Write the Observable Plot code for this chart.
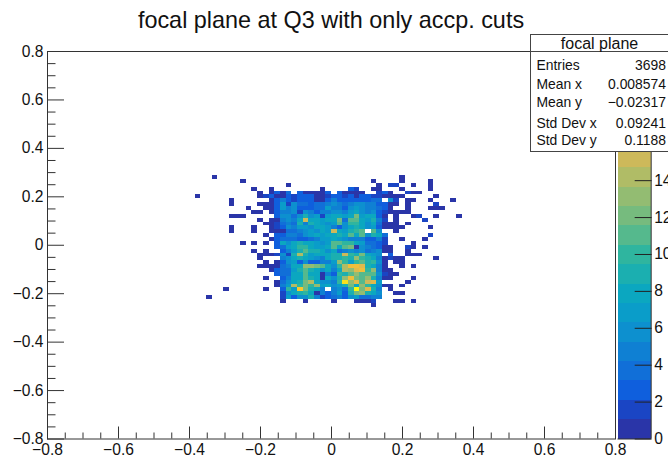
<!DOCTYPE html>
<html><head><meta charset="utf-8">
<script src="https://cdn.jsdelivr.net/npm/d3@7"></script>
<script src="https://cdn.jsdelivr.net/npm/@observablehq/plot@0.6"></script>
<style>
html,body{margin:0;padding:0;background:#fff;overflow:hidden}
#root{position:relative;width:668px;height:455px;overflow:hidden;font-family:"Liberation Sans",Arial,sans-serif;color:#111}
#root svg{position:absolute;background:transparent}
#title{position:absolute;left:0;width:662px;top:6px;text-align:center;font-size:23.4px;line-height:28px;white-space:nowrap}
#stats{position:absolute;left:530px;top:33.5px;width:140px;height:116px;background:#fff;border:1px solid #444;box-sizing:content-box}
#stats .t{position:absolute;left:0;top:0;height:16.5px;line-height:17px;text-align:center;font-size:16px;border-bottom:1px solid #444;width:140px;text-indent:-3px}
#stats .l,#stats .v{position:absolute;font-size:13.9px;line-height:16px;white-space:nowrap}
#stats .l{left:5.5px}
#stats .v{right:5px}
</style></head>
<body><div id="root"><div id="title"></div><div id="stats"></div></div>
<script>
const titleText = "focal plane at Q3 with only accp. cuts";
const statTitle = "focal plane";
const statLabels = ["Entries","Mean x","Mean y","Std Dev x","Std Dev y"];
const statValues = ["3698","0.008574","\u22120.02317","0.09241","0.1188"];
const statRowTops = [22,41.5,59.5,80.5,97.5];

// histogram: 100 x 100 bins on [-0.8, 0.8]
const binStart = -0.8, binWidth = 0.016;
const firstCol = 39, topRow = 63;
// counts in base 36, "." = empty; columns 39..60, rows 63 down to 35
const coreRows = [
"1314.311113.31111..231",
"3113233311233231332211",
"13532333113533333344.6",
"1372644344565456655331",
"1375633344755367655431",
"1355626535566578656321",
".36646967278878c78831.",
"115658f88788c4bb87952.",
"124549598767b6aa868411",
"1236577688753689867311",
"11144567687f879ab.b6..",
".3355467878898b8b6984.",
"134443345778765553352.",
".3868988767bbaa874432.",
".3478aa8778b8bc1654311",
"..3579b998684565645611",
"12629e9788899fa9c876.3",
"..56898765899a9da98512",
".13673633557da7ab9a61.",
"114588ddcb86aehhg9851.",
"134479b986858edghad51.",
".34488b88153a9bdbbb621",
"..3588b981869dhcbd9511",
".14689ce8665ajdgbfg7..",
".157eacad78679c8da8611",
"..3a7ic985.564akcg95.1",
"..2689a81535739cd986..",
"..273669523453674455..",
"..1...1....1...1112..."
];
// isolated bins outside the core: column, row, count
const strayCells = [
[29,67,1],[34,66,1],[42,65,1],[36,64,1],[39,64,1],[48,64,1],[53,64,3],[54,64,2],[37,63,1],[26,62,1],[37,62,1],[38,62,2],
[32,61,1],[32,60,1],[37,60,1],[38,60,1],[35,59,1],[38,59,1],[36,58,1],[37,58,1],[32,57,1],[33,57,1],[34,57,1],[37,56,1],
[38,55,1],[32,54,1],[36,54,1],[32,53,1],[36,53,1],[38,52,1],[34,50,1],[36,50,1],[38,50,1],[36,48,1],[38,48,1],[37,47,1],
[38,47,1],[37,46,1],[38,45,1],[37,44,1],[38,44,1],[38,41,1],[31,38,1],[38,38,1],[28,36,1],
[57,66,1],[62,66,1],[62,67,1],[58,65,1],[60,65,2],[61,65,2],[64,65,1],[67,65,1],[67,66,1],[57,64,1],[58,64,1],[62,64,1],
[67,64,1],[63,63,2],[64,63,1],[65,63,1],[61,62,1],[62,62,1],[68,62,1],[61,61,2],[63,61,1],[64,61,1],[67,61,1],[71,61,1],
[61,60,1],[63,60,1],[68,60,2],[63,59,1],[67,59,1],[68,59,1],[69,59,1],[61,58,1],[62,58,1],[63,58,1],[64,57,1],[65,57,2],
[61,57,1],[68,57,1],[72,57,1],[61,56,1],[66,56,2],[61,55,1],[63,55,1],[61,54,1],[62,54,1],[67,54,1],[61,53,1],[67,52,2],
[62,51,1],[66,51,1],[64,50,1],[63,49,2],[64,49,1],[66,49,1],[63,48,1],[63,47,1],[64,47,1],[65,47,1],[61,46,1],[62,46,1],
[68,46,1],[61,45,1],[62,45,1],[62,44,1],[64,44,1],[60,43,1],[61,42,1],[64,41,1],[63,40,1],[62,39,1],[61,37,1],[62,37,1],
[61,35,1],[62,35,1],[64,35,1],[57,34,1]
];

// palette: 20 contour bands, each 1.05 wide, from 0 to 21
const bandWidth = 1.05;
const palette = ["#2a35a8","#1a45c4","#0f5fdd","#116fd8","#0f80d3","#0d90cf","#0a9dc9","#0ba7c0","#1bafb0","#2fb59f",
"#55b98d","#76bb7e","#93bc72","#b0bc66","#cdb95a","#dfba4c","#efbf3b","#fbc92c","#f8e01e","#f9fb0e"];
const thresholds = palette.slice(1).map((_, k) => (k + 1) * bandWidth);
const colorScale = {type:"threshold", domain:thresholds, range:palette};

const axisMajor = [-0.8,-0.6,-0.4,-0.2,0,0.2,0.4,0.6,0.8];
const axisMinor = [-0.75,-0.7,-0.65,-0.55,-0.5,-0.45,-0.35,-0.3,-0.25,-0.15,-0.1,-0.05,0.05,0.1,0.15,0.25,0.3,0.35,0.45,0.5,0.55,0.65,0.7,0.75];
const paletteTicks = [0,2,4,6,8,10,12,14];

const cells = strayCells.map(([col,row,count]) => ({col,row,count}));
coreRows.forEach((s,r) => [...s].forEach((ch,c) => { if (ch !== ".") cells.push({col:firstCol+c,row:topRow-r,count:parseInt(ch,36)}); }));

const fmt = d => d === 0 ? "0" : d3.format(".1f")(d);
const fontStyle = {fontFamily:'"Liberation Sans",Arial,sans-serif',color:"#111",background:"transparent"};
const labelSize = 15.6;

const main = Plot.plot({
  width:668,height:455,marginLeft:47,marginRight:53,marginTop:51,marginBottom:16.5,
  style:fontStyle,
  x:{domain:[-0.8,0.8]},y:{domain:[-0.8,0.8]},color:colorScale,
  marks:[
    Plot.rect(cells,{x1:d=>binStart+d.col*binWidth,x2:d=>binStart+(d.col+1)*binWidth,y1:d=>binStart+d.row*binWidth,y2:d=>binStart+(d.row+1)*binWidth,fill:"count",shapeRendering:"crispEdges"}),
    Plot.axisX(axisMinor,{anchor:"bottom",tickSize:-6,tickFormat:()=>"",label:null,stroke:"#333"}),
    Plot.axisX(axisMajor,{anchor:"bottom",tickSize:-12,tickPadding:17,tickFormat:fmt,fontSize:labelSize,label:null,stroke:"#333",textStroke:"none"}),
    Plot.axisY(axisMinor,{anchor:"left",tickSize:-8.5,tickFormat:()=>"",label:null,stroke:"#333"}),
    Plot.axisY(axisMajor,{anchor:"left",tickSize:-17,tickPadding:21,tickFormat:fmt,fontSize:labelSize,label:null,stroke:"#333"}),
    Plot.frame({stroke:"#333"})
  ]
});
main.style.left="0";main.style.top="0";
document.getElementById("root").insertBefore(main,document.getElementById("stats"));

const bands = palette.map((_,k)=>({lo:k*bandWidth,hi:(k+1)*bandWidth,mid:(k+0.5)*bandWidth}));
const bar = Plot.plot({
  width:68,height:455,marginLeft:17.5,marginRight:17.3,marginTop:51,marginBottom:16.5,
  style:fontStyle,
  x:{domain:[0,1],axis:null},y:{domain:[0,21]},color:colorScale,
  marks:[
    Plot.rect(bands,{x1:0,x2:1,y1:"lo",y2:"hi",fill:"mid",shapeRendering:"crispEdges"}),
    Plot.axisY(paletteTicks,{anchor:"right",tickSize:-17,tickPadding:20,fontSize:labelSize,label:null,stroke:"#222",tickFormat:d=>String(d)}),
    Plot.ruleX([1],{stroke:"#333"}),
    Plot.ruleY([0],{stroke:"#333"})
  ]
});
bar.style.left="600px";bar.style.top="0";
document.getElementById("root").insertBefore(bar,document.getElementById("stats"));

document.getElementById("title").textContent = titleText;
const box = document.getElementById("stats");
const head = document.createElement("div");head.className="t";head.textContent=statTitle;box.appendChild(head);
statLabels.forEach((t,k)=>{
  const a=document.createElement("div");a.className="l";a.style.top=statRowTops[k]+"px";a.textContent=t;box.appendChild(a);
  const b=document.createElement("div");b.className="v";b.style.top=statRowTops[k]+"px";b.textContent=statValues[k];box.appendChild(b);
});
</script></body></html>
